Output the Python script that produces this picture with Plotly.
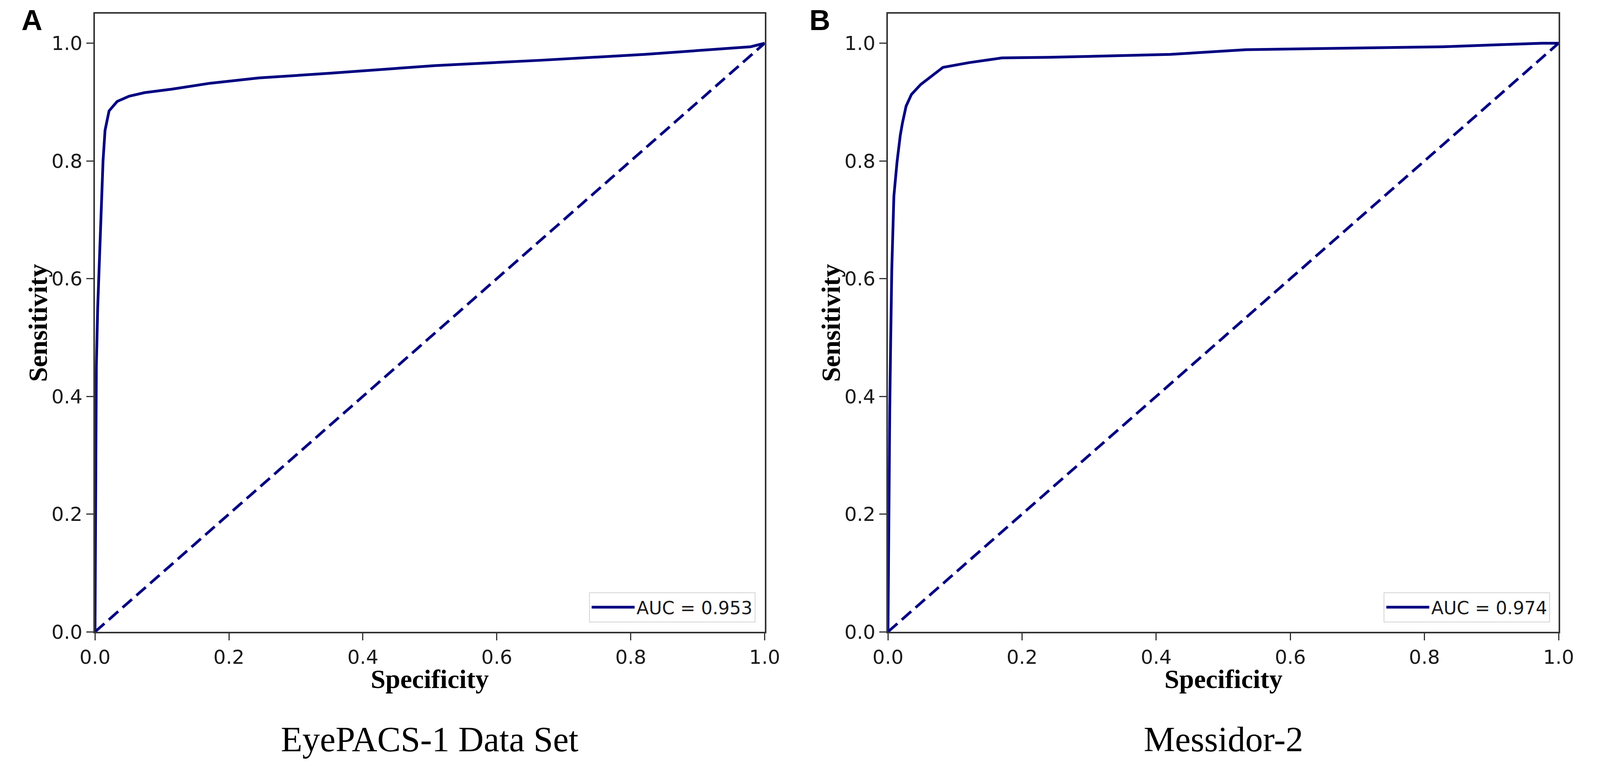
import plotly.graph_objects as go

# EyePACS-1 ROC curve
eyepacs_x = [0.0, 0.001, 0.002, 0.004, 0.007, 0.0097, 0.012, 0.015, 0.021, 0.033, 0.051,
             0.074, 0.115, 0.172, 0.245, 0.351, 0.508, 0.665, 0.821, 0.979, 1.0]
eyepacs_y = [0.0, 0.20, 0.45, 0.55, 0.65, 0.744, 0.80, 0.852, 0.885, 0.901, 0.910,
             0.916, 0.922, 0.932, 0.941, 0.949, 0.962, 0.971, 0.981, 0.994, 1.0]

# Messidor-2 ROC curve
messidor_x = [0.0, 0.001, 0.0027, 0.004, 0.0057, 0.0088, 0.0135, 0.0183, 0.0215, 0.027, 0.035,
              0.049, 0.0665, 0.082, 0.121, 0.170, 0.240, 0.421, 0.534, 0.681, 0.828, 0.975, 1.0]
messidor_y = [0.0, 0.20, 0.381, 0.492, 0.616, 0.740, 0.798, 0.843, 0.864, 0.893, 0.913,
              0.930, 0.946, 0.959, 0.967, 0.975, 0.976, 0.981, 0.989, 0.992, 0.994, 1.0, 1.0]

chance = [0.0, 1.0]
panel_letters = ['A', 'B']
dataset_names = ['EyePACS-1 Data Set', 'Messidor-2']
auc_labels = ['AUC = 0.953', 'AUC = 0.974']
tick_vals = [0.0, 0.2, 0.4, 0.6, 0.8, 1.0]

NAVY = '#000080'
AXIS = '#333333'

fig = go.Figure()

curves = [(eyepacs_x, eyepacs_y), (messidor_x, messidor_y)]
for i, (cx, cy) in enumerate(curves):
    xa = 'x' if i == 0 else 'x2'
    ya = 'y' if i == 0 else 'y2'
    fig.add_trace(go.Scatter(
        x=cx, y=cy, mode='lines', xaxis=xa, yaxis=ya,
        line=dict(color=NAVY, width=7),
        name=auc_labels[i],
        legend='legend' if i == 0 else 'legend2',
    ))
    fig.add_trace(go.Scatter(
        x=chance, y=chance, mode='lines', xaxis=xa, yaxis=ya,
        line=dict(color=NAVY, width=7, dash='32px,15px'),
        showlegend=False, hoverinfo='skip',
    ))

axis_style = dict(
    range=[0, 1], tickvals=tick_vals, tickformat='.1f',
    showline=True, mirror=True, linecolor=AXIS, linewidth=4,
    ticks='outside', ticklen=18, tickwidth=3, tickcolor=AXIS,
    showgrid=False, zeroline=False, layer='below traces',
    tickfont=dict(family='DejaVu Sans', size=50, color='#1a1a1a'),
)
y_style = dict(axis_style, range=[0, 1.05])

legend_style = dict(
    xanchor='right', yanchor='bottom', xref='paper', yref='paper',
    bgcolor='white', bordercolor='#d4d4d4', borderwidth=2,
    font=dict(family='DejaVu Sans', size=46, color='#1a1a1a'),
    itemwidth=110,
)

# figure fills the browser window; everything placed as fractions of it
fig.update_layout(
    autosize=True,
    margin=dict(l=0, r=0, t=0, b=0),
    plot_bgcolor='white', paper_bgcolor='white',
    xaxis=dict(axis_style, domain=[0.0488, 0.4774], anchor='y'),
    yaxis=dict(y_style, domain=[0.1739, 0.9860], anchor='x'),
    xaxis2=dict(axis_style, domain=[0.5563, 0.9855], anchor='y2'),
    yaxis2=dict(y_style, domain=[0.1739, 0.9860], anchor='x2'),
    legend=dict(legend_style, x=0.4714, y=0.1865),
    legend2=dict(legend_style, x=0.9800, y=0.1865),
)

# panel text: letters, axis titles, dataset captions
letter_x = [0.0084, 0.5125]
ylabel_x = [0.0121, 0.5196]
center_x = [0.2631, 0.7709]
for i in range(2):
    fig.add_annotation(x=letter_x[i], y=1.0, xref='paper', yref='paper',
                       xanchor='center', yanchor='top',
                       text=f'<b>{panel_letters[i]}</b>', showarrow=False,
                       font=dict(family='Liberation Sans', size=74, color='black'))
    fig.add_annotation(x=ylabel_x[i], y=0.5800, xref='paper', yref='paper',
                       xanchor='center', yanchor='middle',
                       text='<b>Sensitivity</b>', textangle=-90, showarrow=False,
                       font=dict(family='Liberation Serif', size=68, color='black'))
    fig.add_annotation(x=center_x[i], y=0.1118, xref='paper', yref='paper',
                       xanchor='center', yanchor='middle',
                       text='<b>Specificity</b>', showarrow=False,
                       font=dict(family='Liberation Serif', size=68, color='black'))
    fig.add_annotation(x=center_x[i], y=0.0326, xref='paper', yref='paper',
                       xanchor='center', yanchor='middle',
                       text=dataset_names[i], showarrow=False,
                       font=dict(family='Liberation Serif', size=90, color='black'))

fig.write_html("out.html")
